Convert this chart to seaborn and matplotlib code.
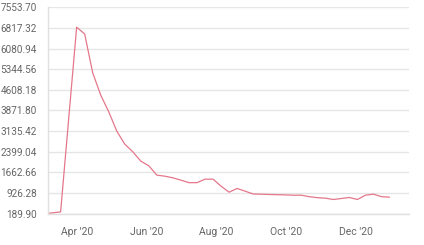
import matplotlib
matplotlib.use("Agg")
import matplotlib.pyplot as plt
import seaborn as sns
import pandas as pd

dates = ["2020-03-07", "2020-03-18", "2020-04-01", "2020-04-08", "2020-04-15", "2020-04-22",
         "2020-04-29", "2020-05-06", "2020-05-13", "2020-05-20", "2020-05-27", "2020-06-03",
         "2020-06-10", "2020-06-17", "2020-06-24", "2020-07-01", "2020-07-08", "2020-07-15",
         "2020-07-22", "2020-07-29", "2020-08-05", "2020-08-12", "2020-08-19", "2020-08-26",
         "2020-09-02", "2020-09-09", "2020-09-16", "2020-09-23", "2020-09-30", "2020-10-07",
         "2020-10-14", "2020-10-21", "2020-10-28", "2020-11-04", "2020-11-11", "2020-11-18",
         "2020-11-25", "2020-12-02", "2020-12-09", "2020-12-16", "2020-12-23", "2020-12-30"]
values = [195, 247, 6845, 6600, 5216, 4419,
          3822, 3132, 2667, 2392, 2060, 1892,
          1559, 1523, 1463, 1380, 1291, 1291,
          1416, 1416, 1166, 951, 1084, 987,
          887, 880, 869, 862, 855, 844,
          844, 790, 755, 737, 690, 726,
          762, 690, 844, 880, 790, 773]
y_ticks = [189.90, 926.28, 1662.66, 2399.04, 3135.42, 3871.80, 4608.18, 5344.56, 6080.94, 6817.32, 7553.70]
x_tick_dates = ["2020-04-01", "2020-06-01", "2020-08-01", "2020-10-01", "2020-12-01"]
x_tick_labels = ["Apr '20", "Jun '20", "Aug '20", "Oct '20", "Dec '20"]

df = pd.DataFrame({"date": pd.to_datetime(dates), "value": values})

sns.set_style("white")
plt.rcParams["font.family"] = ["Roboto", "DejaVu Sans"]

fig = plt.figure(figsize=(4.24, 2.45), dpi=100)
ax = fig.add_axes([48 / 424, 1 - 213.5 / 245, (409 - 48) / 424, (213.5 - 7.3) / 245])

sns.lineplot(data=df, x="date", y="value", ax=ax, color="#e4778a", linewidth=0.9)

ax.set_ylim(y_ticks[0], y_ticks[-1])
ax.set_yticks(y_ticks)
ax.set_yticklabels([f"{v:.2f}" for v in y_ticks])
ax.set_xlim(pd.Timestamp("2020-03-07"), pd.Timestamp("2021-01-16"))
ax.set_xticks(pd.to_datetime(x_tick_dates))
ax.set_xticklabels(x_tick_labels)

ax.grid(axis="y", color="#e6e6e6", linewidth=1.0)
ax.grid(axis="x", visible=False)
ax.set_axisbelow(True)
for s in ["top", "right"]:
    ax.spines[s].set_visible(False)
ax.spines["left"].set_color("#e0e0e0")
ax.spines["bottom"].set_color("#e0e0e0")
ax.spines["left"].set_linewidth(1.0)
ax.spines["bottom"].set_linewidth(1.0)

ax.tick_params(axis="y", length=0, pad=8, labelsize=7.2, labelcolor="#666666")
ax.tick_params(axis="x", length=4, width=1, color="#b0b8c0", pad=6, labelsize=7.5,
               labelcolor="#666666", direction="out")
ax.set_xlabel("")
ax.set_ylabel("")

fig.savefig("out.png", dpi=100)
